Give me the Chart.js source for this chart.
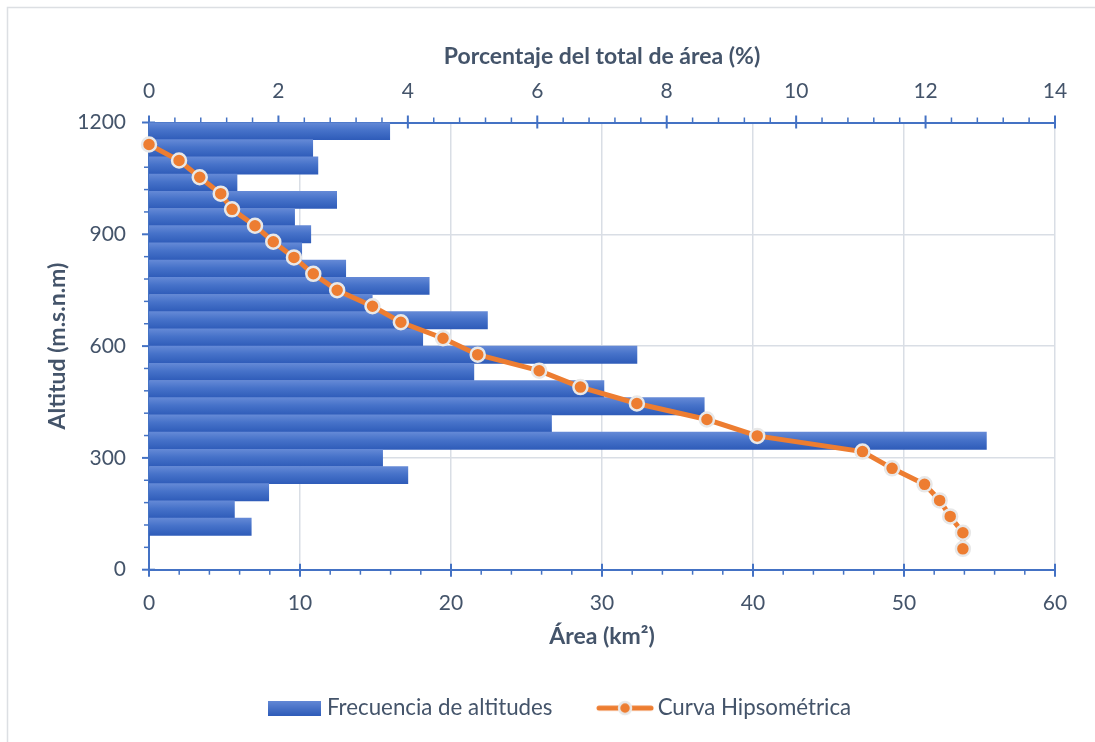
<!DOCTYPE html>
<html lang="es">
<head>
<meta charset="utf-8">
<title>Curva hipsométrica</title>
<script src="https://cdn.jsdelivr.net/npm/chart.js@4.4.1/dist/chart.umd.min.js"></script>
<style>
  html, body { margin: 0; padding: 0; background: #fff; }
  .chart-box { position: relative; width: 1095px; height: 742px; }
</style>
</head>
<body>
<div class="chart-box"><canvas id="hypsoChart"></canvas></div>
<script>
// altitude bands, top of each band (m.s.n.m), highest first
const bandLabels = ["1200", "1154", "1108", "1062", "1015", "969", "923", "877", "831",
  "785", "738", "692", "646", "600", "554", "508", "462", "415", "369", "323", "277",
  "231", "185", "138", "92", "46"];
// share of the basin area inside each band (%)
const bandShare = [3.72, 2.53, 2.61, 1.36, 2.90, 2.25, 2.50, 2.36, 3.04, 4.33, 3.45, 5.23,
  4.23, 7.54, 5.02, 7.03, 8.58, 6.22, 12.94, 3.61, 4.00, 1.85, 1.32, 1.58, null, null];

// hypsometric curve: altitude and cumulative area above it
const curveAltitude = [1141, 1098, 1053, 1009, 967, 923, 880, 838, 794, 750, 707, 664, 621,
  577, 534, 490, 446, 403, 359, 317, 272, 229, 186, 143, 99, 56];
const curveArea = [0, 1.99, 3.36, 4.75, 5.50, 7.02, 8.23, 9.60, 10.88, 12.46, 14.80, 16.68,
  19.47, 21.77, 25.84, 28.57, 32.31, 36.95, 40.28, 47.25, 49.21, 51.36, 52.36, 53.06, 53.90, 53.90];

// axis ranges: [min, max, major step, minor step]
const areaAxis = [0, 60, 10, 2];
const shareAxis = [0, 14, 2, 0.4];
const altitudeAxis = [0, 1200, 300, 60];

const BLUE = "#4472c4";
const ORANGE = "#ed7d31";
const TEXT = "#44546a";
const GRID = "#d9dee5";
const FONT = "Lato, 'Open Sans', sans-serif";

const tickFont = { family: FONT, size: 21 };
const titleFont = { family: FONT, size: 23, weight: "bold" };
const plainNumber = { useGrouping: false };

// each bar gets its own light-to-dark vertical gradient
function bandFill(context) {
  const chart = context.chart;
  const yBar = chart.scales.yBar;
  if (!chart.chartArea || !yBar || context.dataIndex === undefined) return BLUE;
  const center = yBar.getPixelForValue(context.dataIndex);
  const half = (yBar.getPixelForValue(1) - yBar.getPixelForValue(0)) / 2;
  const g = chart.ctx.createLinearGradient(0, center - half, 0, center + half);
  g.addColorStop(0, "#6489d6");
  g.addColorStop(0.45, "#4672c9");
  g.addColorStop(1, "#2f5cb9");
  return g;
}

// legend symbols
function barIcon() {
  const c = document.createElement("canvas");
  c.width = 53; c.height = 15;
  const x = c.getContext("2d");
  const g = x.createLinearGradient(0, 0, 0, 15);
  g.addColorStop(0, "#6489d6");
  g.addColorStop(1, "#2f5cb9");
  x.fillStyle = g;
  x.fillRect(0, 0, 53, 15);
  return c;
}

function lineIcon() {
  const c = document.createElement("canvas");
  c.width = 58; c.height = 20;
  const x = c.getContext("2d");
  x.strokeStyle = ORANGE;
  x.lineWidth = 5;
  x.lineCap = "round";
  x.beginPath(); x.moveTo(3, 10); x.lineTo(55, 10); x.stroke();
  x.beginPath(); x.arc(29, 10, 6, 0, Math.PI * 2);
  x.fillStyle = ORANGE; x.fill();
  x.lineWidth = 2.5; x.strokeStyle = "#e8e8e8"; x.stroke();
  return c;
}

const legendIcons = [barIcon(), lineIcon()];

const chartFrame = {
  id: "chartFrame",
  beforeDraw(chart) {
    const { ctx, width, height } = chart;
    ctx.save();
    ctx.fillStyle = "#fff";
    ctx.fillRect(0, 0, width, height);
    ctx.strokeStyle = "#dcdfe3";
    ctx.lineWidth = 1.5;
    ctx.beginPath();
    ctx.moveTo(7.5, height);
    ctx.lineTo(7.5, 7.5);
    ctx.lineTo(width, 7.5);
    ctx.stroke();
    ctx.restore();
  }
};

// altitude title, rotated, a fixed distance left of the plot
const altitudeTitle = {
  id: "altitudeTitle",
  afterDraw(chart) {
    const { ctx, chartArea: area } = chart;
    ctx.save();
    ctx.translate(area.left - 91, (area.top + area.bottom) / 2);
    ctx.rotate(-Math.PI / 2);
    ctx.font = "bold 23px " + FONT;
    ctx.fillStyle = TEXT;
    ctx.textAlign = "center";
    ctx.textBaseline = "middle";
    ctx.fillText("Altitud (m.s.n.m)", 0, 0);
    ctx.restore();
  }
};

// major ticks cross the axis line, minor ticks sit outside it
const axisTicks = {
  id: "axisTicks",
  beforeDatasetsDraw(chart) {
    const { ctx, chartArea: area, scales } = chart;
    ctx.save();
    ctx.strokeStyle = BLUE;
    const mark = (x1, y1, x2, y2, w) => {
      ctx.lineWidth = w;
      ctx.beginPath(); ctx.moveTo(x1, y1); ctx.lineTo(x2, y2); ctx.stroke();
    };
    const each = (range, fn) => {
      const [min, max, major, minor] = range;
      const n = Math.round((max - min) / minor);
      const per = Math.round(major / minor);
      for (let i = 0; i <= n; i++) fn(min + i * minor, i % per === 0);
    };
    each(areaAxis, (v, isMajor) => {
      const x = scales.x.getPixelForValue(v);
      if (isMajor) mark(x, area.bottom - 6, x, area.bottom + 7, 2);
      else mark(x, area.bottom, x, area.bottom + 5, 1.5);
    });
    each(shareAxis, (v, isMajor) => {
      const x = scales.x2.getPixelForValue(v);
      if (isMajor) mark(x, area.top - 7, x, area.top + 6, 2);
      else mark(x, area.top - 5, x, area.top, 1.5);
    });
    each(altitudeAxis, (v, isMajor) => {
      const y = scales.y.getPixelForValue(v);
      if (isMajor) mark(area.left - 7, y, area.left + 6, y, 2);
      else mark(area.left - 5, y, area.left, y, 1.5);
    });
    ctx.restore();
  }
};

const curvePoints = curveAltitude.map((alt, i) => ({ x: curveArea[i], y: alt }));

new Chart(document.getElementById("hypsoChart"), {
  type: "bar",
  data: {
    labels: bandLabels,
    datasets: [
      {
        type: "bar",
        label: "Frecuencia de altitudes",
        data: bandShare,
        indexAxis: "y",
        xAxisID: "x2",
        yAxisID: "yBar",
        backgroundColor: bandFill,
        borderWidth: 0,
        grouped: false,
        barPercentage: 1,
        categoryPercentage: 1,
        order: 2
      },
      {
        type: "line",
        label: "Curva Hipsométrica",
        data: curvePoints,
        xAxisID: "x",
        yAxisID: "y",
        borderColor: ORANGE,
        borderWidth: 5,
        pointRadius: 7,
        pointBorderWidth: 2.5,
        pointBackgroundColor: ORANGE,
        pointBorderColor: "#e8e8e8",
        tension: 0,
        clip: false,
        order: 1
      }
    ]
  },
  options: {
    responsive: true,
    maintainAspectRatio: false,
    animation: false,
    layout: { padding: { left: 29, right: 0, top: 0, bottom: 12.75 } },
    plugins: {
      legend: {
        position: "bottom",
        labels: {
          usePointStyle: true,
          pointStyleWidth: 43,
          padding: 51,
          color: TEXT,
          font: { family: FONT, size: 22.3 },
          generateLabels: (chart) => chart.data.datasets.map((ds, i) => ({
            text: ds.label,
            pointStyle: legendIcons[i],
            datasetIndex: i,
            fontColor: TEXT,
            fillStyle: "transparent",
            strokeStyle: "transparent",
            lineWidth: 0,
            hidden: false
          }))
        }
      },
      tooltip: { enabled: false }
    },
    scales: {
      x: {
        type: "linear",
        position: "bottom",
        min: areaAxis[0],
        max: areaAxis[1],
        offset: false,
        ticks: { stepSize: areaAxis[2], padding: 21, color: TEXT, font: tickFont, format: plainNumber },
        grid: { color: GRID, lineWidth: 1.5, drawTicks: false, offset: false },
        border: { color: BLUE, width: 2 },
        title: { display: true, text: "Área (km²)", color: TEXT, font: titleFont, padding: { top: 0, bottom: -4 } },
        afterFit: (s) => { s.height = 76.25; }
      },
      x2: {
        type: "linear",
        position: "top",
        min: shareAxis[0],
        max: shareAxis[1],
        offset: false,
        ticks: { stepSize: shareAxis[2], padding: 19, color: TEXT, font: tickFont, format: plainNumber },
        grid: { display: false, drawTicks: false, offset: false },
        border: { color: BLUE, width: 2 },
        title: { display: true, text: "Porcentaje del total de área (%)", color: TEXT, font: titleFont, padding: { top: 43, bottom: 0 } },
        afterFit: (s) => { s.height = 122.5; }
      },
      y: {
        type: "linear",
        position: "left",
        min: altitudeAxis[0],
        max: altitudeAxis[1],
        ticks: { stepSize: altitudeAxis[2], padding: 23, color: TEXT, font: tickFont, format: plainNumber },
        grid: { color: GRID, lineWidth: 1.5, drawTicks: false },
        border: { color: BLUE, width: 2 },
        afterFit: (s) => { s.width = 120; }
      },
      // band axis: no marks of its own, only holds the right margin
      yBar: {
        type: "category",
        position: "right",
        offset: true,
        ticks: { display: false },
        grid: { display: false, drawTicks: false, offset: true },
        border: { display: false },
        afterFit: (s) => { s.width = 40; }
      }
    }
  },
  plugins: [chartFrame, axisTicks, altitudeTitle]
});
</script>
</body>
</html>
